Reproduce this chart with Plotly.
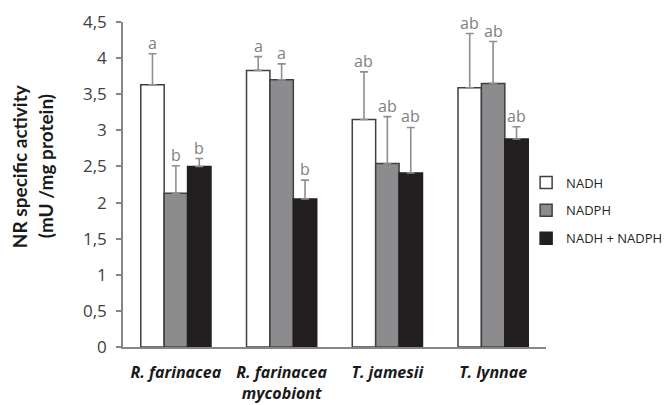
import plotly.graph_objects as go

# Nitrate reductase specific activity per organism and cofactor
categories = ["R. farinacea", "R. farinacea<br>mycobiont", "T. jamesii", "T. lynnae"]
series_names = ["NADH", "NADPH", "NADH + NADPH"]
nadh = [3.63, 3.83, 3.15, 3.59]
nadph = [2.13, 3.70, 2.54, 3.65]
nadh_nadph = [2.50, 2.05, 2.41, 2.88]
nadh_err = [0.43, 0.19, 0.66, 0.75]
nadph_err = [0.38, 0.22, 0.65, 0.58]
nadh_nadph_err = [0.11, 0.26, 0.63, 0.17]
nadh_letters = ["a", "a", "ab", "ab"]
nadph_letters = ["b", "a", "ab", "ab"]
nadh_nadph_letters = ["b", "b", "ab", "ab"]
y_ticks = [0, 0.5, 1, 1.5, 2, 2.5, 3, 3.5, 4, 4.5]
y_tick_text = ["0", "0,5", "1", "1,5", "2", "2,5", "3", "3,5", "4", "4,5"]

values = [nadh, nadph, nadh_nadph]
errors = [nadh_err, nadph_err, nadh_nadph_err]
letters = [nadh_letters, nadph_letters, nadh_nadph_letters]
fills = ["#ffffff", "#8c8c8e", "#231f20"]
outlines = ["#404040", "#404040", "#231f20"]

FONT = "Open Sans"
TITLE_FONT = "Lato"
BARGAP = 0.336
bar_w = (1 - BARGAP) / 3

fig = go.Figure()
for k in range(3):
    fig.add_trace(go.Bar(
        x=categories, y=values[k], name=series_names[k],
        marker=dict(color=fills[k], line=dict(color=outlines[k], width=1.5)),
        error_y=dict(type="data", symmetric=False, array=errors[k],
                     arrayminus=[0] * len(categories),
                     color="#8f8f8f", thickness=1.6, width=4),
        legendgroup=series_names[k],
    ))

annotations = []
for k in range(3):
    off = (k - 1) * bar_w
    for i in range(len(categories)):
        annotations.append(dict(
            x=i + off, y=values[k][i] + errors[k][i], xref="x", yref="y",
            text=letters[k][i], showarrow=False, yanchor="bottom", yshift=-2,
            font=dict(family=FONT, size=16, color="#7f7f7f"),
        ))

# two-line y-axis title
annotations.append(dict(x=0, y=0.555, xref="paper", yref="paper", xshift=-117,
                        text="<b>NR specific activity</b>", textangle=-90,
                        showarrow=False, font=dict(family=TITLE_FONT, size=19, color="#1a1a1a")))
annotations.append(dict(x=0, y=0.555, xref="paper", yref="paper", xshift=-91,
                        text="<b>(mU /mg protein)</b>", textangle=-90,
                        showarrow=False, font=dict(family=TITLE_FONT, size=19, color="#1a1a1a")))

fig.update_layout(
    width=666, height=405,
    margin=dict(l=123, r=120, t=22, b=58, autoexpand=False),
    paper_bgcolor="white", plot_bgcolor="white",
    barmode="group", bargap=BARGAP, bargroupgap=0,
    showlegend=True,
    legend=dict(x=0.953, y=0.42, xanchor="left", yanchor="middle",
                font=dict(family=FONT, size=13, color="#262626"),
                traceorder="grouped", tracegroupgap=8,
                itemwidth=30, bgcolor="rgba(0,0,0,0)"),
    annotations=annotations,
)
fig.update_xaxes(
    tickvals=list(range(len(categories))),
    ticktext=["<b><i>" + c.replace("<br>", "</i></b><br><b><i>") + "</i></b>" for c in categories],
    range=[-0.5, len(categories) - 0.5],
    showline=True, linecolor="#868686", linewidth=1.5,
    ticks="", showgrid=False, zeroline=False, ticklabelstandoff=10,
    tickfont=dict(family=FONT, size=16, color="#1a1a1a"),
)
fig.update_yaxes(
    range=[0, 4.5], tickvals=y_ticks, ticktext=y_tick_text,
    showline=True, linecolor="#868686", linewidth=1.5,
    ticks="outside", ticklen=5, tickcolor="#868686", tickwidth=1.5,
    showgrid=False, zeroline=False, ticklabelstandoff=6,
    tickfont=dict(family=FONT, size=17, color="#404040"),
)

fig.write_html("out.html")
